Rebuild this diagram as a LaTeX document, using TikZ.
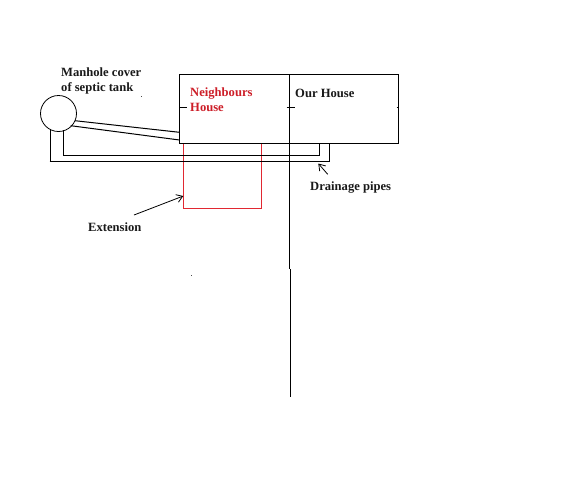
\documentclass[tikz,border=0pt]{standalone}
\usepackage{fontspec}
\setmainfont{Liberation Serif}
\usetikzlibrary{arrows.meta}
\definecolor{extred}{RGB}{225,40,50}
\definecolor{redtext}{RGB}{205,30,40}
\tikzset{
  x=1pt,y=-1pt,
  line/.style={draw=black,line width=1pt,outer sep=0pt},
  extbox/.style={draw=extred,line width=1.5pt,outer sep=0pt},
  ptr/.style={draw=black,line width=0.8pt,-{Straight Barb[length=6pt,width=8pt,line width=0.8pt]}},
  lbl/.style={font=\fontsize{12.6}{14}\selectfont\bfseries,inner sep=0pt,anchor=base west,text=black!90},
  speck/.style={fill=black!70,inner sep=0pt,minimum size=1pt,shape=rectangle}
}
\begin{document}
\begin{tikzpicture}
\useasboundingbox (0,0) rectangle (572,499);
\fill[white] (0,0) rectangle (572,499);
% red extension
\node[extbox,minimum width=78pt,minimum height=65pt,inner sep=0pt,shape=rectangle,anchor=north west] (ext) at (183.5,143.5) {};
% manhole
\node[line,line width=0.8pt,shape=circle,minimum size=36pt,inner sep=0pt] (man) at (58.5,113.5) {};
% houses
\node[line,shape=rectangle,minimum width=110pt,minimum height=69pt,inner sep=0pt,anchor=north west] (nh) at (179.5,74) {};
\node[line,shape=rectangle,minimum width=109pt,minimum height=69pt,inner sep=0pt,anchor=north west] (oh) at (289.5,74) {};
% pipes house-manhole
\coordinate (p1a) at (75,120.7); \coordinate (p1b) at (179.5,132.3);
\coordinate (p2a) at (70.7,125.7); \coordinate (p2b) at (179.5,140);
\draw[line] (p1a) -- (p1b);
\draw[line] (p2a) -- (p2b);
% drainage
\coordinate (d1a) at (63.5,130); \coordinate (d1b) at (63.5,155.5); \coordinate (d1c) at (319,155.5); \coordinate (d1d) at (319,143);
\coordinate (d2a) at (50.5,130); \coordinate (d2b) at (50.5,161.5); \coordinate (d2c) at (329.5,161.5); \coordinate (d2d) at (329.5,143);
\coordinate (d2e) at (49.5,161.5);
\draw[line] (d1a) -- (d1b) -- (d1c) -- (d1d);
\draw[line] (d2a) -- (d2b);
\draw[line] (d2e) -- (d2c) -- (d2d);
% boundary line
\coordinate (v1) at (289.5,143); \coordinate (v2) at (289.5,269); \coordinate (v3) at (290.5,269); \coordinate (v4) at (290.5,397);
\draw[line] (v1) -- (v2);
\draw[line] (v3) -- (v4);
% ticks
\coordinate (t1a) at (179.5,107); \coordinate (t1b) at (187,107);
\coordinate (t2a) at (286.5,107); \coordinate (t2b) at (295,107);
\coordinate (t3a) at (396.5,107); \coordinate (t3b) at (398.5,107);
\draw[line] (t1a) -- (t1b);
\draw[line] (t2a) -- (t2b);
\draw[line] (t3a) -- (t3b);
% labels
\node[lbl] (l1) at (61,76) {Manhole cover};
\node[lbl] (l2) at (61,91) {of septic tank};
\node[lbl,text=redtext] (l3) at (190,96) {Neighbours};
\node[lbl,text=redtext] (l4) at (190,111) {House};
\node[lbl] (l5) at (295,97) {Our House};
\node[lbl] (l6) at (310,190) {Drainage pipes};
\node[lbl] (l7) at (88,231) {Extension};
% pointers
\coordinate (a1) at (134,215); \coordinate (a2) at (183.3,196);
\coordinate (b1) at (327.7,174.3); \coordinate (b2) at (318.3,163.5);
\draw[ptr] (a1) -- (a2);
\draw[ptr] (b1) -- (b2);
% specks
\node[speck] (s1) at (141,96.5) {};
\node[speck] (s2) at (191.5,275.5) {};
\end{tikzpicture}
\end{document}
